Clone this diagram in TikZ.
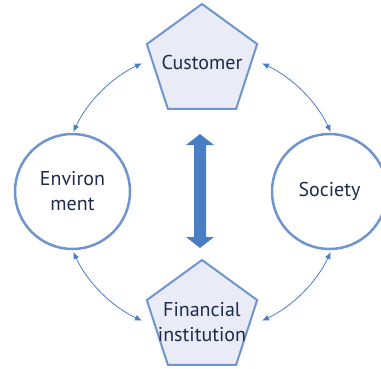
\documentclass[tikz,border=0pt]{standalone}
\usepackage{fontspec}
\setmainfont{PT Sans}
\usetikzlibrary{shapes.geometric,arrows.meta,calc}
\definecolor{edgeblue}{HTML}{7094CD}
\definecolor{arrblue}{HTML}{4A7EC4}
\definecolor{pentfill}{HTML}{E9EBF6}
\definecolor{txtnavy}{HTML}{1E2B4A}
\tikzset{
  pentnode/.style={regular polygon, regular polygon sides=5, minimum size=116pt, inner sep=0pt,
    draw=edgeblue, line width=2pt, fill=pentfill},
  labeltext/.style={text=txtnavy, font=\fontsize{20}{25}\selectfont, align=center, inner sep=0pt},
  circnode/.style={circle, minimum size=115pt, inner sep=0pt, draw=edgeblue, line width=2.5pt,
    fill=white, text=txtnavy, font=\fontsize{20}{25}\selectfont, align=center},
  linkarrow/.style={arrblue, line width=0.8pt, {Latex[length=7pt,width=6pt]}-{Latex[length=7pt,width=6pt]}},
  bigarrow/.style={fill=arrblue, draw=none}
}
\begin{document}
\begin{tikzpicture}[x=1pt,y=-1pt]
\path[use as bounding box] (0,0) rectangle (381,368);
\clip (0,0) rectangle (381,368);
\node[pentnode] (cust) at (202,62) {};
\node[labeltext] (custtext) at (202,62) {Customer};
\node[pentnode] (fin) at (202,318) {};
\node[labeltext] (fintext) at (202,322) {Financial\\institution};
\node[circnode] (env) at (72.5,191.5) {Environ\\ment};
\node[circnode] (soc) at (329.5,191.5) {Society};
\coordinate (ctr) at (202,192);
\draw[linkarrow] ($(ctr)+(115:142pt)$) arc[start angle=115, end angle=155, radius=142pt];
\draw[linkarrow] ($(ctr)+(65:142pt)$) arc[start angle=65, end angle=25, radius=142pt];
\draw[linkarrow] ($(ctr)+(205:142pt)$) arc[start angle=205, end angle=245, radius=142pt];
\draw[linkarrow] ($(ctr)+(335:142pt)$) arc[start angle=335, end angle=295, radius=142pt];
\coordinate (ba) at (200,134);
\fill[bigarrow] (ba) -- ++(14,11) -- ++(-8,0) -- ++(0,92) -- ++(8,0) -- ++(-14,11) -- ++(-14,-11) -- ++(8,0) -- ++(0,-92) -- ++(-8,0) -- cycle;
\end{tikzpicture}
\end{document}
